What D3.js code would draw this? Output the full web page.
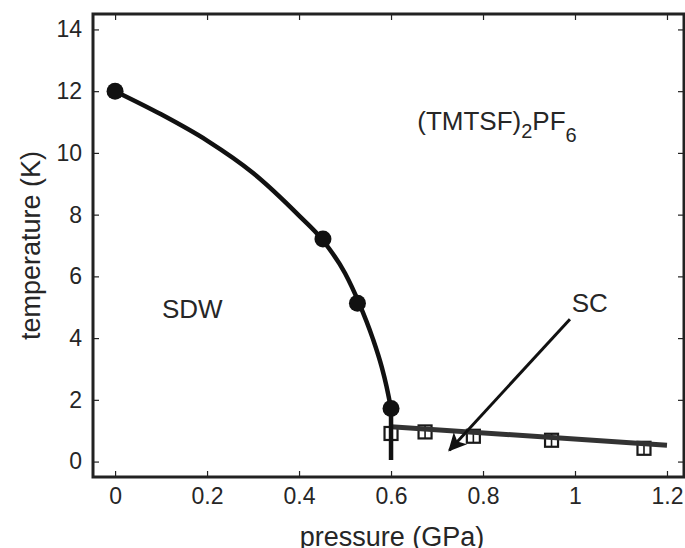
<!DOCTYPE html>
<html>
<head>
<meta charset="utf-8">
<title>(TMTSF)2PF6 phase diagram</title>
<style>
body { margin: 0; background: #fff; }
text { font-family: "Liberation Sans", Arial, Helvetica, sans-serif; fill: #262626; }
</style>
</head>
<body>
<svg id="chart" width="685" height="548"></svg>
<script src="https://d3js.org/d3.v7.min.js"></script>
<script>
// measured points, SDW transition (filled circles)
var sdwP = [0, 0.452, 0.527, 0.6];
var sdwT = [12, 7.21, 5.13, 1.72];

// SDW fit curve
var sdwCurveP = [0, 0.1, 0.2, 0.3, 0.4, 0.45, 0.5, 0.53, 0.56, 0.58, 0.59, 0.6];
var sdwCurveT = [12, 11.25, 10.4, 9.35, 7.97, 7.2, 6.1, 5.15, 4.0, 3.05, 2.45, 1.72];
// vertical drop at the critical pressure
var dropP = [0.6, 0.6];
var dropT = [1.72, 0.05];

// SC transition (open squares) and its line
var scP = [0.6, 0.674, 0.779, 0.949, 1.15];
var scT = [0.91, 0.96, 0.82, 0.69, 0.43];
var scLineP = [0.6, 1.2];
var scLineT = [1.13, 0.53];

// arrow from the SC label to the line
var arrowP = [0.989, 0.727];
var arrowT = [4.61, 0.37];

var xTicks = [0, 0.2, 0.4, 0.6, 0.8, 1, 1.2];
var yTicks = [0, 2, 4, 6, 8, 10, 12, 14];

var svg = d3.select("#chart");
var mLeft = 93, mRight = 684, mTop = 14, mBottom = 477;

var x = d3.scaleLinear().domain([-0.048, 1.237]).range([mLeft, mRight]);
var y = d3.scaleLinear().domain([-0.5, 14.5]).range([mBottom, mTop]);

// inward ticks on all four sides
function tickAxis(axis, ticks, fmt) {
  return axis.tickValues(ticks).tickSizeInner(-6).tickSizeOuter(0).tickFormat(fmt);
}
var fmt = function(d) { return String(d); };
var none = function() { return ""; };

var gx = svg.append("g").attr("transform", "translate(0," + mBottom + ")")
  .call(tickAxis(d3.axisBottom(x), xTicks, fmt));
var gxTop = svg.append("g").attr("transform", "translate(0," + mTop + ")")
  .call(tickAxis(d3.axisTop(x), xTicks, none));
var gy = svg.append("g").attr("transform", "translate(" + mLeft + ",0)")
  .call(tickAxis(d3.axisLeft(y), yTicks, fmt));
var gyRight = svg.append("g").attr("transform", "translate(" + mRight + ",0)")
  .call(tickAxis(d3.axisRight(y), yTicks, none));

[gx, gxTop, gy, gyRight].forEach(function(g) {
  g.select(".domain").remove();
  g.selectAll(".tick line").attr("stroke", "#222").attr("stroke-width", 1.2);
});
gx.selectAll(".tick text").attr("font-size", 23).attr("y", 11).attr("dy", "0.71em").style("fill", "#262626");
gy.selectAll(".tick text").attr("font-size", 23).attr("x", -11).style("fill", "#262626");

// frame
svg.append("rect")
  .attr("x", mLeft).attr("y", mTop)
  .attr("width", mRight - mLeft).attr("height", mBottom - mTop)
  .attr("fill", "none").attr("stroke", "#222").attr("stroke-width", 3);

// axis labels
svg.append("text")
  .attr("x", 392).attr("y", 546)
  .attr("text-anchor", "middle").attr("font-size", 27)
  .text("pressure (GPa)");
svg.append("text")
  .attr("transform", "translate(40," + (mTop + mBottom) / 2 + ") rotate(-90)")
  .attr("text-anchor", "middle").attr("font-size", 27)
  .text("temperature (K)");

var plot = svg.append("g");

// SC line + squares
var straight = d3.line().x(function(d) { return x(d[0]); }).y(function(d) { return y(d[1]); });
var sq = 13;
var squares = plot.selectAll("g.sq")
  .data(d3.zip(scP, scT))
  .enter().append("g").attr("class", "sq")
  .attr("transform", function(d) { return "translate(" + x(d[0]) + "," + y(d[1]) + ")"; });
squares.append("rect")
  .attr("x", -sq / 2).attr("y", -sq / 2).attr("width", sq).attr("height", sq)
  .attr("fill", "#fff").attr("stroke", "#1a1a1a").attr("stroke-width", 2.2);
squares.append("line")
  .attr("x1", 0).attr("x2", 0).attr("y1", -sq / 2).attr("y2", sq / 2)
  .attr("stroke", "#1a1a1a").attr("stroke-width", 1.6);

plot.append("path")
  .datum(d3.zip(scLineP, scLineT))
  .attr("d", straight)
  .attr("fill", "none").attr("stroke", "#333").attr("stroke-width", 5);

// SDW curve
var curve = d3.line()
  .x(function(d) { return x(d[0]); })
  .y(function(d) { return y(d[1]); })
  .curve(d3.curveMonotoneX);
plot.append("path")
  .datum(d3.zip(sdwCurveP, sdwCurveT))
  .attr("d", curve)
  .attr("fill", "none").attr("stroke", "#111").attr("stroke-width", 4.5)
  .attr("stroke-linejoin", "round");
plot.append("path")
  .datum(d3.zip(dropP, dropT))
  .attr("d", straight)
  .attr("fill", "none").attr("stroke", "#111").attr("stroke-width", 4.5);

plot.selectAll("circle")
  .data(d3.zip(sdwP, sdwT))
  .enter().append("circle")
  .attr("cx", function(d) { return x(d[0]); })
  .attr("cy", function(d) { return y(d[1]); })
  .attr("r", 8.5)
  .attr("fill", "#111");

// arrow
svg.append("defs").append("marker")
  .attr("id", "head")
  .attr("viewBox", "0 0 10 10")
  .attr("refX", 9).attr("refY", 5)
  .attr("markerWidth", 8).attr("markerHeight", 6)
  .attr("markerUnits", "strokeWidth")
  .attr("orient", "auto")
  .append("path").attr("d", "M0,0 L10,5 L0,10 L2.5,5 Z").attr("fill", "#111");

plot.append("line")
  .attr("x1", x(arrowP[0])).attr("y1", y(arrowT[0]))
  .attr("x2", x(arrowP[1])).attr("y2", y(arrowT[1]))
  .attr("stroke", "#111").attr("stroke-width", 3)
  .attr("marker-end", "url(#head)");

// annotations
svg.append("text")
  .attr("x", x(0.168)).attr("y", y(4.66))
  .attr("text-anchor", "middle").attr("font-size", 26)
  .text("SDW");
svg.append("text")
  .attr("x", x(0.993)).attr("y", y(4.85))
  .attr("font-size", 26)
  .text("SC");

var formula = svg.append("text")
  .attr("x", x(0.657)).attr("y", y(10.73))
  .attr("font-size", 26);
formula.append("tspan").text("(TMTSF)");
formula.append("tspan").attr("font-size", 20).attr("dy", 8).text("2");
formula.append("tspan").attr("dy", -8).text("PF");
formula.append("tspan").attr("font-size", 20).attr("dy", 12).text("6");
</script>
</body>
</html>
